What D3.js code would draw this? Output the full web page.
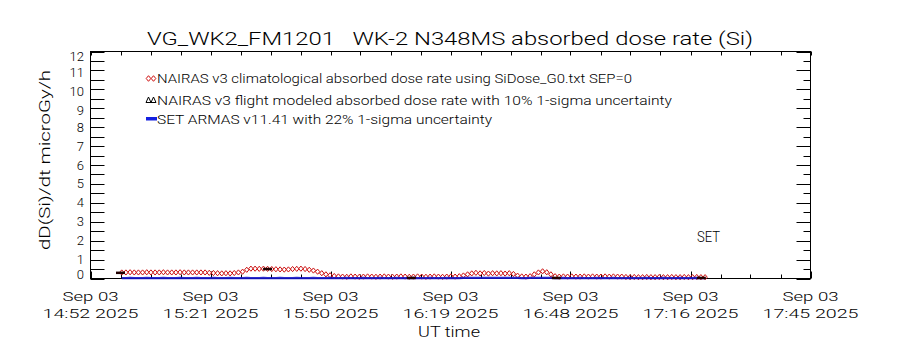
<!DOCTYPE html>
<html><head><meta charset="utf-8">
<script src="https://cdn.jsdelivr.net/npm/d3@7"></script>
<style>
html,body{margin:0;padding:0;background:#fff;}
svg{display:block;}
text{font-family:Roboto,"Liberation Sans",Arial,sans-serif;font-weight:300;fill:#000;}
</style></head>
<body>
<svg id="chart" width="900" height="350"></svg>
<script>
// ---------------- DATA ----------------
const titleText = "VG_WK2_FM1201   WK-2 N348MS absorbed dose rate (Si)";
const yTitle = "dD(Si)/dt microGy/h";
const xTitle = "UT time";
const legendLabels = [
  "NAIRAS v3 climatological absorbed dose rate using SiDose_G0.txt SEP=0",
  "NAIRAS v3 flight modeled absorbed dose rate with 10% 1-sigma uncertainty",
  "SET ARMAS v11.41 with 22% 1-sigma uncertainty"
];
const xTickDates = ["Sep 03","Sep 03","Sep 03","Sep 03","Sep 03","Sep 03","Sep 03"];
const xTickTimes = ["14:52 2025","15:21 2025","15:50 2025","16:19 2025","16:48 2025","17:16 2025","17:45 2025"];
const xTickMinutes = [0, 28.8, 57.6, 86.4, 115.2, 144.0, 172.8];   // minutes after 14:52 UT
const yTickValues = [0,1,2,3,4,5,6,7,8,9,10,11,12];
const instrumentLabel = "SET";

// sampling of the model / instrument series (minutes after 14:52 UT)
const sampleStartMin = 7.5;
const sampleStepMin = 1;

// NAIRAS v3 climatological absorbed dose rate (microGy/h)
const nairasClim = [
  0.32,0.32,0.33,0.32,0.32,0.32,0.33,0.32,0.32,0.32,0.33,0.32,0.32,0.32,0.33,0.32,0.32,0.32,0.32,0.32,0.32,
  0.30,0.29,0.28,0.27,0.28,0.27,0.29,0.32,0.36,
  0.46,0.52,0.52,0.51,0.52,0.51,0.50,0.49,0.48,0.47,0.48,0.50,0.51,0.52,0.50,0.46,0.42,
  0.36,0.28,0.22,0.17,0.13,0.11,
  0.10,0.09,0.11,0.10,0.09,0.10,0.11,0.10,0.09,0.10,0.11,0.10,0.09,0.10,0.11,0.10,0.09,0.10,0.11,0.10,0.09,0.10,0.11,0.10,0.09,0.10,0.11,0.10,0.12,0.16,
  0.22,0.27,0.30,0.27,0.29,0.26,0.28,0.27,0.28,0.26,0.28,0.24,0.15,
  0.11,0.10,0.12,
  0.22,0.32,0.38,0.33,0.22,
  0.12,0.10,0.11,0.10,0.11,0.10,0.10,0.11,0.10,0.11,0.10,0.10,0.11,0.10,0.11,0.10,0.10,
  0.08,0.07,0.08,0.07,0.07,0.08,0.07,0.07,0.08,0.07,0.07,0.08,0.07,0.07,0.08,0.07,0.07,0.08,0.07,0.07
];
// SET ARMAS measured absorbed dose rate (microGy/h)
const armasSet = [
  0.02,0.02,0.03,0.02,0.02,0.02,0.03,0.02,0.02,0.02,0.03,0.02,0.02,0.02,0.03,0.02,0.02,0.02,0.03,0.02,0.02,
  0.02,0.03,0.02,0.02,0.02,0.03,0.02,0.02,0.02,
  0.03,0.02,0.02,0.02,0.03,0.02,0.02,0.02,0.03,0.02,0.02,0.02,0.03,0.02,0.02,0.02,0.03,
  0.02,0.02,0.02,0.03,0.02,0.02,
  0.02,0.03,0.02,0.02,0.02,0.03,0.02,0.02,0.02,0.03,0.02,0.02,0.02,0.03,0.02,0.02,0.02,0.03,0.02,0.02,0.02,0.03,0.02,0.02,0.02,0.03,0.02,0.02,0.02,0.03,
  0.03,0.03,0.03,0.03,0.03,0.03,0.03,0.03,0.03,0.03,0.03,0.03,0.03,
  0.02,0.02,0.03,
  0.03,0.03,0.03,0.03,0.03,
  0.02,0.02,0.03,0.02,0.02,0.02,0.03,0.02,0.02,0.02,0.03,0.02,0.02,0.02,0.03,0.02,0.02,
  0.02,0.03,0.02,0.02,0.02,0.03,0.02,0.02,0.02,0.03,0.02,0.02,0.02,0.03,0.02,0.02,0.02,0.03,0.02,0.02
];
// NAIRAS v3 flight modeled points
const flightMinutes = [7.2, 42.5, 77.0, 111.8, 146.6];
const flightValues  = [0.30, 0.50, 0.03, 0.03, 0.03];

// ---------------- DRAW ----------------
const svg = d3.select("#chart");
const L = 90.5, R = 810.5, T = 51.5, B = 278.5;
const x = d3.scaleLinear().domain([0, 172.8]).range([L, R]);
const y = d3.scaleLinear().domain([0, 12]).range([B, T]);

const times = nairasClim.map((d, i) => sampleStartMin + i * sampleStepMin);

// title
svg.append("text").attr("x", 147).attr("y", 45).attr("font-size", 18)
  .attr("textLength", 606).attr("lengthAdjust", "spacingAndGlyphs")
  .style("white-space", "pre").text(titleText);

// frame
svg.append("rect").attr("x", L).attr("y", T).attr("width", R - L).attr("height", B - T)
  .attr("fill", "none").attr("stroke", "#000").attr("stroke-width", 1);

// y ticks: left all 14px, right major 14 / minor 7
const yMinor = d3.range(0, 12.001, 0.5);
const g = svg.append("g").attr("stroke", "#000").attr("stroke-width", 1);
yMinor.forEach(v => {
  const yy = Math.round(y(v)) + 0.5;
  g.append("line").attr("x1", L).attr("x2", L + 14).attr("y1", yy).attr("y2", yy);
  const len = Number.isInteger(v) ? 14 : 7;
  g.append("line").attr("x1", R - len).attr("x2", R).attr("y1", yy).attr("y2", yy);
});
// x ticks
const xMinor = d3.range(0, 172.81, 7.2);
xMinor.forEach((m, i) => {
  const xx = Math.round(x(m)) + 0.5;
  const major = i % 4 === 0;
  g.append("line").attr("x1", xx).attr("x2", xx).attr("y1", B).attr("y2", B - (major ? 7 : 4));
  g.append("line").attr("x1", xx).attr("x2", xx).attr("y1", T).attr("y2", T + 4);
});

// y tick labels
const yLabelShift = v => v === 12 ? 9.5 : (v === 0 ? 0.5 : (v >= 9 ? 6.5 : 4.5));
svg.append("g").selectAll("text").data(yTickValues).join("text")
  .attr("x", 84).attr("y", v => y(v) + yLabelShift(v))
  .attr("text-anchor", "end").attr("font-size", 13).text(v => v);

// y title
svg.append("text").attr("transform", "translate(50,160) rotate(-90)")
  .attr("text-anchor", "middle").attr("font-size", 15)
  .attr("textLength", 180).attr("lengthAdjust", "spacingAndGlyphs").text(yTitle);

// x tick labels
const xl = svg.append("g");
xTickMinutes.forEach((m, i) => {
  xl.append("text").attr("x", x(m)).attr("y", 301).attr("text-anchor", "middle")
    .attr("font-size", 13.5).attr("textLength", 56).attr("lengthAdjust", "spacingAndGlyphs").text(xTickDates[i]);
  xl.append("text").attr("x", x(m)).attr("y", 317.5).attr("text-anchor", "middle")
    .attr("font-size", 13.5).attr("textLength", 96).attr("lengthAdjust", "spacingAndGlyphs").text(xTickTimes[i]);
});
svg.append("text").attr("x", 449).attr("y", 337).attr("text-anchor", "middle")
  .attr("font-size", 15).attr("textLength", 62).attr("lengthAdjust", "spacingAndGlyphs").text(xTitle);

// SET label
svg.append("text").attr("x", 697).attr("y", 242).attr("font-size", 14)
  .attr("textLength", 23).attr("lengthAdjust", "spacingAndGlyphs").text(instrumentLabel);

// legend
const legY = [83, 105, 124];
const legLen = [475, 515, 335];
legendLabels.forEach((t, i) => {
  svg.append("text").attr("x", 157).attr("y", legY[i]).attr("font-size", 12.5)
    .attr("textLength", legLen[i]).attr("lengthAdjust", "spacingAndGlyphs").text(t);
});
const diamond = (cx, cy, w, h) => `M${cx - w},${cy}L${cx},${cy - h}L${cx + w},${cy}L${cx},${cy + h}Z`;
[148.5, 153.5].forEach(cx => {
  svg.append("path").attr("d", diamond(cx, 78.5, 2.3, 2.8)).attr("fill", "none")
    .attr("stroke", "#d01010").attr("stroke-width", 1);
  svg.append("path").attr("d", `M${cx - 2.5},${102.5}L${cx},${97}L${cx + 2.5},${102.5}Z`).attr("fill", "none")
    .attr("stroke", "#000").attr("stroke-width", 1);
});
svg.append("rect").attr("x", 146).attr("y", 117).attr("width", 11).attr("height", 3.5).attr("fill", "#1420e0");

// red NAIRAS climatological diamonds
svg.append("g").selectAll("path").data(nairasClim).join("path")
  .attr("d", (d, i) => diamond(x(times[i]), y(d), 2.2, 2.6))
  .attr("fill", "none").attr("stroke", "#cc1010").attr("stroke-width", 1);

// blue SET ARMAS series (drawn over the model)
const line = d3.line().x((d, i) => x(times[i])).y(d => y(d));
svg.append("path").datum(armasSet).attr("d", line).attr("fill", "none")
  .attr("stroke", "#1414c8").attr("stroke-width", 2.2).attr("stroke-opacity", 0.9);

// black flight modeled markers
svg.append("g").selectAll("line").data(flightValues).join("line")
  .attr("x1", (d, i) => x(flightMinutes[i]) - 4.5).attr("x2", (d, i) => x(flightMinutes[i]) + 4.5)
  .attr("y1", d => y(d)).attr("y2", d => y(d))
  .attr("stroke", "#200000").attr("stroke-width", 2.5);
</script>
</body></html>
